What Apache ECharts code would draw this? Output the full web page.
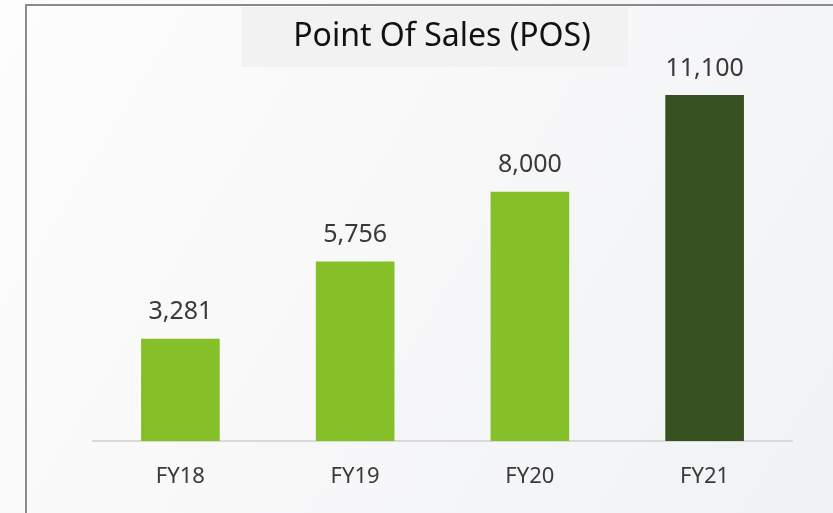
<!DOCTYPE html>
<html>
<head>
<meta charset="utf-8">
<script src="https://cdn.jsdelivr.net/npm/echarts@6/dist/echarts.min.js"></script>
<style>
    html, body { margin: 0; padding: 0; }
    #main { width: 833px; height: 513px; }
</style>
</head>
<body>
<div id="main"></div>
<script>
var years = ['FY18', 'FY19', 'FY20', 'FY21'];
var posCount = [3281, 5756, 8000, 11100];
var barColors = ['#86c029', '#86c029', '#86c029', '#36511f'];

var myChart = echarts.init(document.getElementById('main'));

var option = {
    backgroundColor: new echarts.graphic.LinearGradient(0, 0, 1, 1, [
        {offset: 0, color: '#fdfdfd'},
        {offset: 1, color: '#f1f2f4'}
    ]),
    textStyle: {fontFamily: 'Noto Sans'},
    graphic: [
        // title box
        {type: 'rect', shape: {x: 242, y: 7, width: 386, height: 60}, style: {fill: '#f2f2f2'}, z: 0},
        // frame, left + top only
        {type: 'line', shape: {x1: 26, y1: 5, x2: 833, y2: 5}, style: {stroke: '#8a8a8a', lineWidth: 2}},
        {type: 'line', shape: {x1: 26, y1: 4, x2: 26, y2: 513}, style: {stroke: '#8a8a8a', lineWidth: 2}}
    ],
    title: {
        text: 'Point Of Sales (POS)',
        left: 437,
        textAlign: 'center',
        top: 16,
        textStyle: {fontSize: 32, fontWeight: 'normal', color: '#111111', fontFamily: 'Noto Sans'}
    },
    grid: {left: 93, right: 41, top: 67, bottom: 72},
    xAxis: {
        type: 'category',
        data: years,
        axisLine: {lineStyle: {color: '#d9d9d9', width: 2}},
        axisTick: {show: false},
        axisLabel: {fontSize: 22, color: '#3a3a3a', margin: 25}
    },
    yAxis: {
        type: 'value',
        min: 0,
        max: 12000,
        show: false,
        splitLine: {show: false}
    },
    series: [{
        type: 'bar',
        barWidth: '45%',
        data: posCount.map(function (v, i) {
            return {value: v, itemStyle: {color: barColors[i]}};
        }),
        label: {
            show: true,
            position: 'top',
            distance: 14,
            fontSize: 25,
            color: '#3a3a3a',
            formatter: function (p) {
                return p.value.toLocaleString('en-US');
            }
        }
    }]
};
myChart.setOption(option);
</script>
</body>
</html>
